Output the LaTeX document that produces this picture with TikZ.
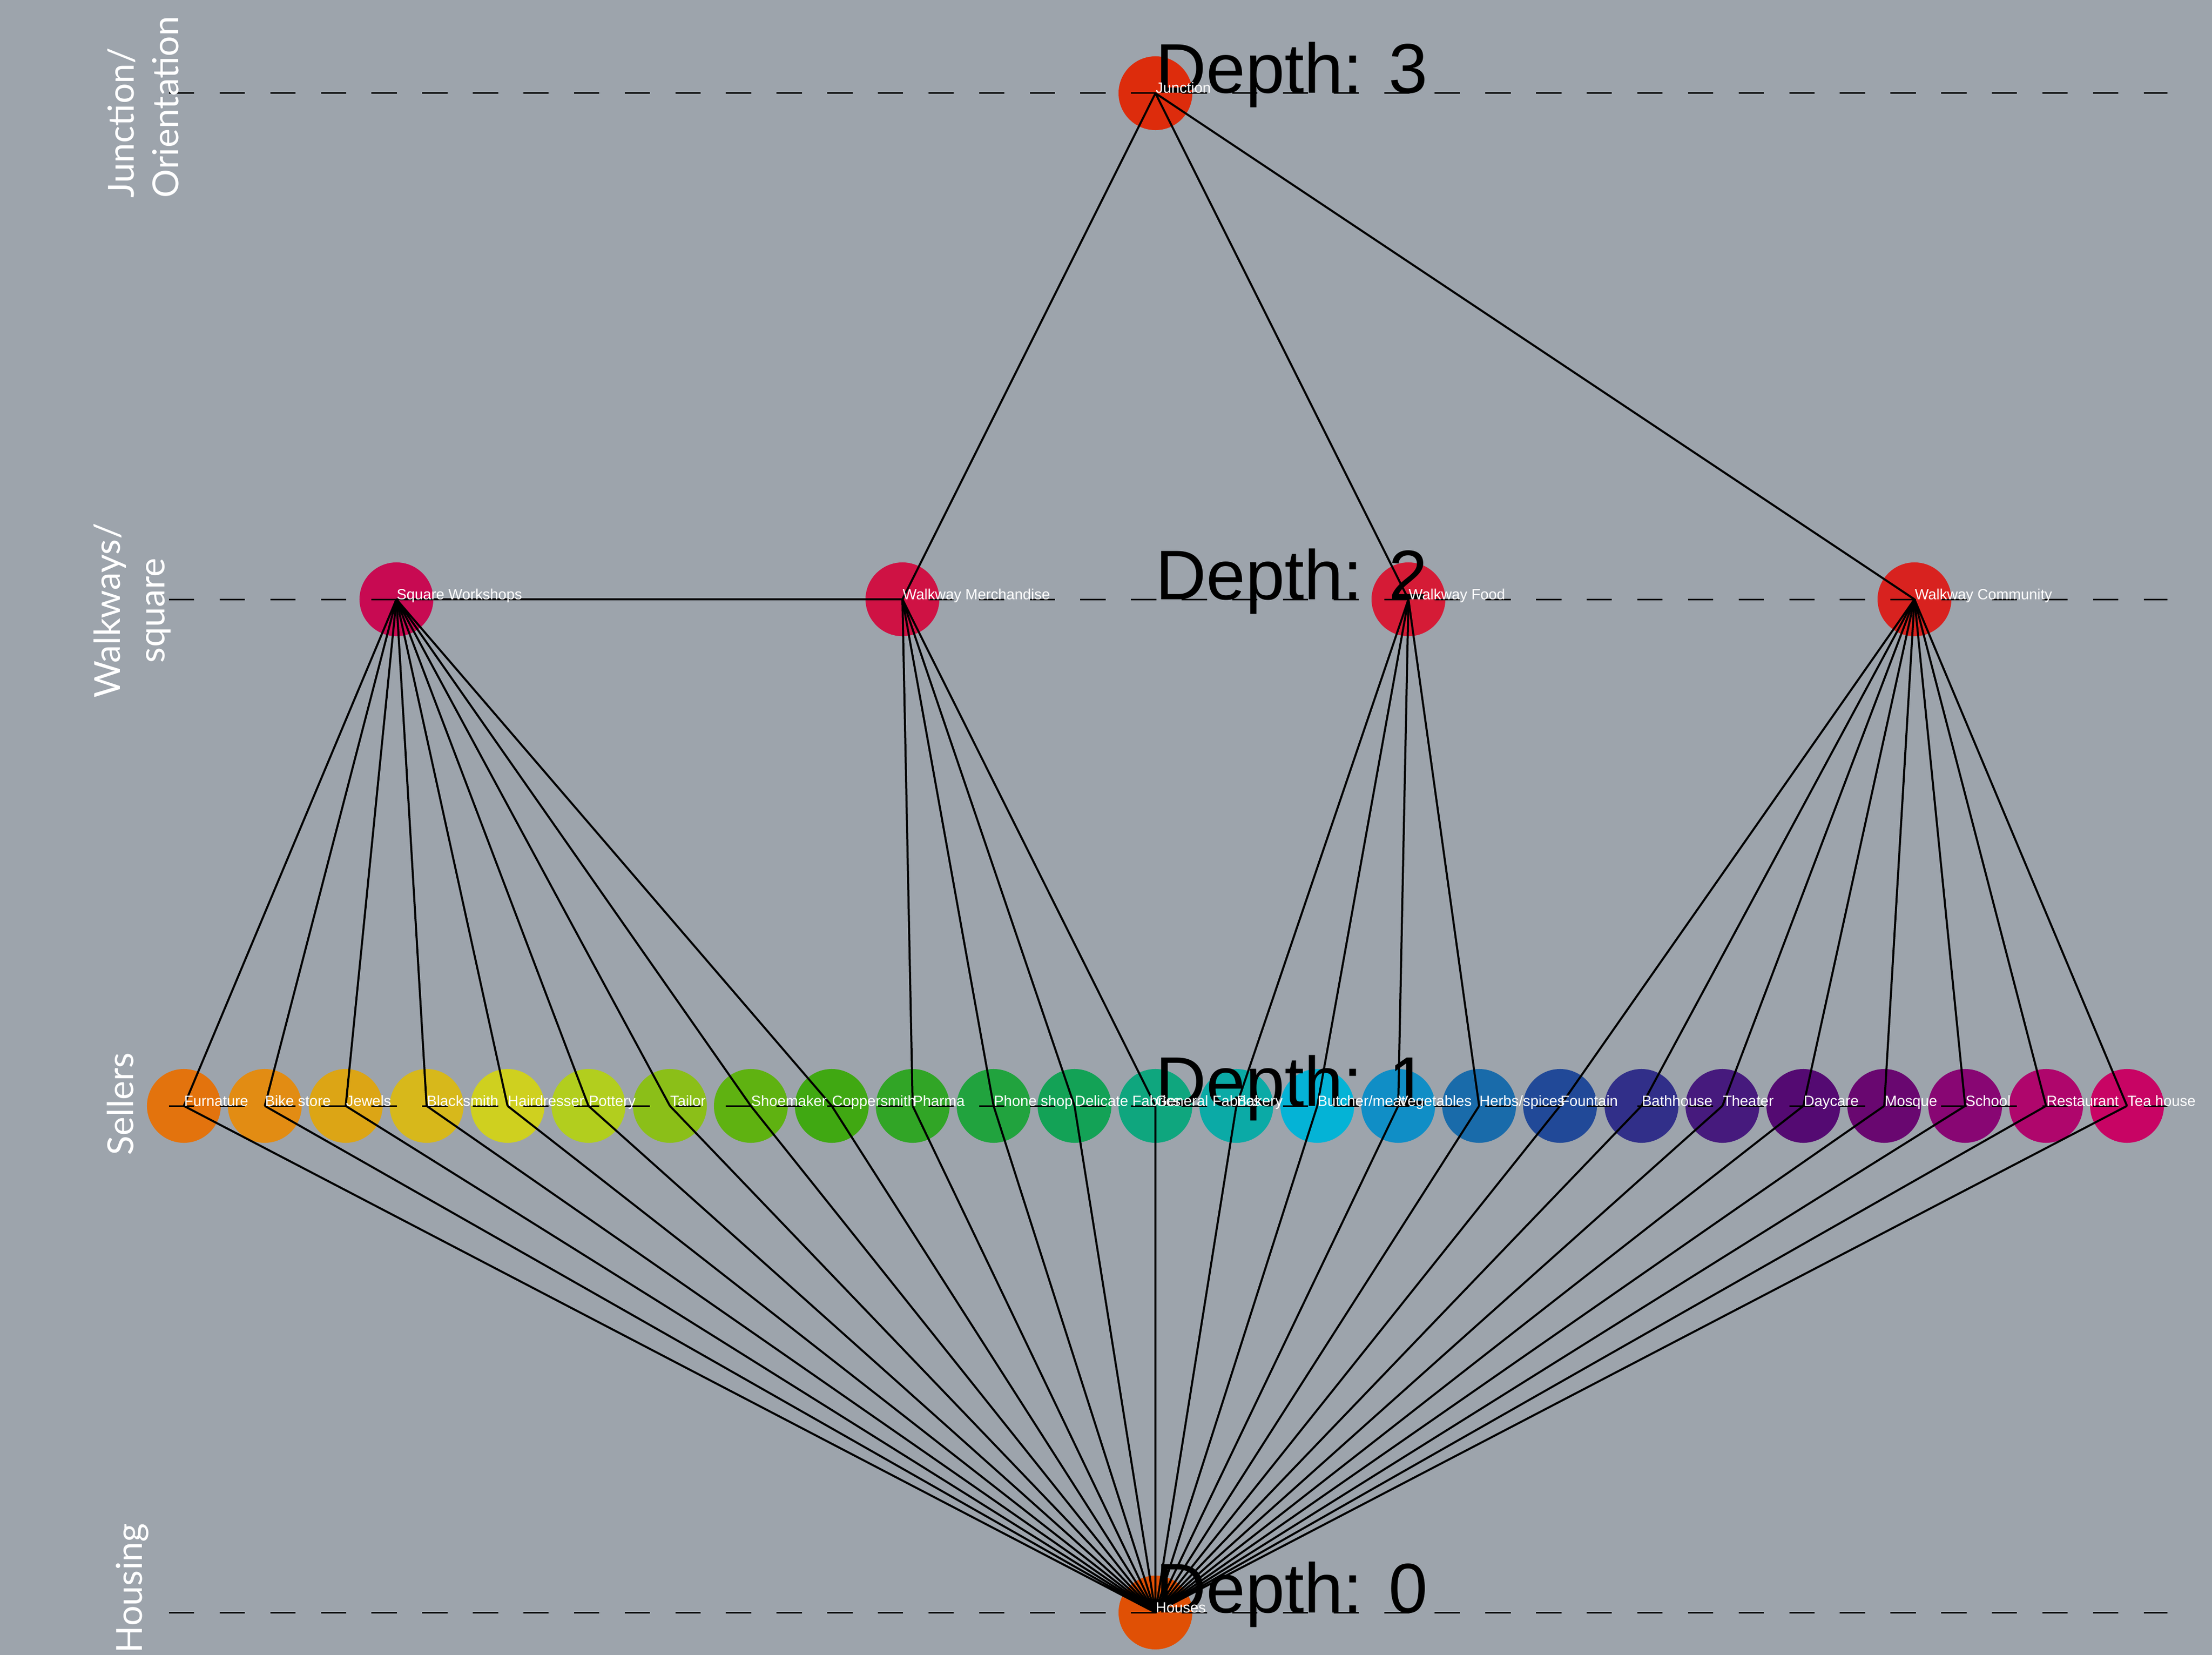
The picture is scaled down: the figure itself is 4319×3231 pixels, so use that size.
\documentclass[tikz,border=0pt]{standalone}
\usepackage{fontspec}
\setmainfont{Liberation Sans}
\newfontfamily\sidefont{Lato}
\usepackage{tikz}

\definecolor{bggray}{RGB}{157,164,172}
\definecolor{cJunc}{HTML}{DD2C0C}
\definecolor{cSquare}{HTML}{C80A52}
\definecolor{cMerch}{HTML}{CF1244}
\definecolor{cFood}{HTML}{D51B36}
\definecolor{cComm}{HTML}{D8221F}
\definecolor{cHouses}{HTML}{E05005}
\definecolor{cFurn}{HTML}{E3730D}
\definecolor{cBike}{HTML}{E28C13}
\definecolor{cJewel}{HTML}{DCA515}
\definecolor{cSmith}{HTML}{D7B81B}
\definecolor{cHair}{HTML}{CFD01F}
\definecolor{cPot}{HTML}{B2CE1E}
\definecolor{cTail}{HTML}{8BBF18}
\definecolor{cShoe}{HTML}{5FB211}
\definecolor{cCopper}{HTML}{40A812}
\definecolor{cPharma}{HTML}{31A526}
\definecolor{cPhone}{HTML}{21A33E}
\definecolor{cDelFab}{HTML}{13A256}
\definecolor{cGenFab}{HTML}{0FA67E}
\definecolor{cBake}{HTML}{0BAAA6}
\definecolor{cButch}{HTML}{04B3D6}
\definecolor{cVeg}{HTML}{108EC6}
\definecolor{cHerb}{HTML}{196BAA}
\definecolor{cFount}{HTML}{214998}
\definecolor{cBath}{HTML}{312F89}
\definecolor{cTheat}{HTML}{461A7D}
\definecolor{cDay}{HTML}{540A72}
\definecolor{cMosq}{HTML}{690770}
\definecolor{cSchool}{HTML}{880673}
\definecolor{cRest}{HTML}{AF066C}
\definecolor{cTea}{HTML}{C80464}

\begin{document}
\begin{tikzpicture}[x=0.01cm,y=-0.01cm]
  \tikzstyle{VertexStyle}=[circle,minimum size=1.44cm,inner sep=0pt]
  \tikzstyle{LabelStyle}=[anchor=base west,inner sep=0pt,text=white,font=\fontsize{8.2pt}{10pt}\selectfont]
  \tikzstyle{DepthStyle}=[anchor=base west,inner sep=0pt,font=\fontsize{39pt}{47pt}\selectfont]
  \tikzstyle{SideStyle}=[rotate=90,inner sep=0pt,text=white,font=\sidefont\fontsize{19.9pt}{24.7pt}\selectfont]
  \tikzstyle{GuideStyle}=[line width=0.03cm,dash pattern=on 0.494cm off 0.494cm]
  \tikzstyle{EdgeStyle}=[line width=0.04cm]
  \fill[bggray] (0,0) rectangle (4319,3231);
  \useasboundingbox (0,0) rectangle (4319,3231);
  % depth 3
  \node[VertexStyle,fill=cJunc] (junc) at (2256,182) {};
  % depth 2
  \node[VertexStyle,fill=cSquare] (sqw) at (774,1170) {};
  \node[VertexStyle,fill=cMerch] (wmer) at (1762,1170) {};
  \node[VertexStyle,fill=cFood] (wfood) at (2750,1170) {};
  \node[VertexStyle,fill=cComm] (wcom) at (3738,1170) {};
  % depth 1
  \node[VertexStyle,fill=cFurn] (furn) at (359,2159) {};
  \node[VertexStyle,fill=cBike] (bike) at (517,2159) {};
  \node[VertexStyle,fill=cJewel] (jewel) at (675,2159) {};
  \node[VertexStyle,fill=cSmith] (smith) at (833,2159) {};
  \node[VertexStyle,fill=cHair] (hair) at (991,2159) {};
  \node[VertexStyle,fill=cPot] (pot) at (1149,2159) {};
  \node[VertexStyle,fill=cTail] (tail) at (1308,2159) {};
  \node[VertexStyle,fill=cShoe] (shoe) at (1466,2159) {};
  \node[VertexStyle,fill=cCopper] (copper) at (1624,2159) {};
  \node[VertexStyle,fill=cPharma] (pharma) at (1782,2159) {};
  \node[VertexStyle,fill=cPhone] (phone) at (1940,2159) {};
  \node[VertexStyle,fill=cDelFab] (delfab) at (2098,2159) {};
  \node[VertexStyle,fill=cGenFab] (genfab) at (2256,2159) {};
  \node[VertexStyle,fill=cBake] (bake) at (2414,2159) {};
  \node[VertexStyle,fill=cButch] (butch) at (2572,2159) {};
  \node[VertexStyle,fill=cVeg] (veg) at (2730,2159) {};
  \node[VertexStyle,fill=cHerb] (herb) at (2888,2159) {};
  \node[VertexStyle,fill=cFount] (fount) at (3046,2159) {};
  \node[VertexStyle,fill=cBath] (bath) at (3205,2159) {};
  \node[VertexStyle,fill=cTheat] (theat) at (3363,2159) {};
  \node[VertexStyle,fill=cDay] (day) at (3521,2159) {};
  \node[VertexStyle,fill=cMosq] (mosq) at (3679,2159) {};
  \node[VertexStyle,fill=cSchool] (school) at (3837,2159) {};
  \node[VertexStyle,fill=cRest] (rest) at (3995,2159) {};
  \node[VertexStyle,fill=cTea] (tea) at (4153,2159) {};
  % depth 0
  \node[VertexStyle,fill=cHouses] (houses) at (2256,3148) {};
  % guides
  \draw[GuideStyle] (330,182) -- (4232,182);
  \draw[GuideStyle] (330,1170) -- (4232,1170);
  \draw[GuideStyle] (330,2159) -- (4232,2159);
  \draw[GuideStyle] (330,3148) -- (4232,3148);
  % edges
  \draw[EdgeStyle] (junc.center) -- (wmer.center);
  \draw[EdgeStyle] (junc.center) -- (wfood.center);
  \draw[EdgeStyle] (junc.center) -- (wcom.center);
  \draw[EdgeStyle] (sqw.center) -- (wmer.center);
  \draw[EdgeStyle] (sqw.center) -- (furn.center);
  \draw[EdgeStyle] (sqw.center) -- (bike.center);
  \draw[EdgeStyle] (sqw.center) -- (jewel.center);
  \draw[EdgeStyle] (sqw.center) -- (smith.center);
  \draw[EdgeStyle] (sqw.center) -- (hair.center);
  \draw[EdgeStyle] (sqw.center) -- (pot.center);
  \draw[EdgeStyle] (sqw.center) -- (tail.center);
  \draw[EdgeStyle] (sqw.center) -- (shoe.center);
  \draw[EdgeStyle] (sqw.center) -- (copper.center);
  \draw[EdgeStyle] (wmer.center) -- (pharma.center);
  \draw[EdgeStyle] (wmer.center) -- (phone.center);
  \draw[EdgeStyle] (wmer.center) -- (delfab.center);
  \draw[EdgeStyle] (wmer.center) -- (genfab.center);
  \draw[EdgeStyle] (wfood.center) -- (bake.center);
  \draw[EdgeStyle] (wfood.center) -- (butch.center);
  \draw[EdgeStyle] (wfood.center) -- (veg.center);
  \draw[EdgeStyle] (wfood.center) -- (herb.center);
  \draw[EdgeStyle] (wcom.center) -- (fount.center);
  \draw[EdgeStyle] (wcom.center) -- (bath.center);
  \draw[EdgeStyle] (wcom.center) -- (theat.center);
  \draw[EdgeStyle] (wcom.center) -- (day.center);
  \draw[EdgeStyle] (wcom.center) -- (mosq.center);
  \draw[EdgeStyle] (wcom.center) -- (school.center);
  \draw[EdgeStyle] (wcom.center) -- (rest.center);
  \draw[EdgeStyle] (wcom.center) -- (tea.center);
  \draw[EdgeStyle] (furn.center) -- (houses.center);
  \draw[EdgeStyle] (bike.center) -- (houses.center);
  \draw[EdgeStyle] (jewel.center) -- (houses.center);
  \draw[EdgeStyle] (smith.center) -- (houses.center);
  \draw[EdgeStyle] (hair.center) -- (houses.center);
  \draw[EdgeStyle] (pot.center) -- (houses.center);
  \draw[EdgeStyle] (tail.center) -- (houses.center);
  \draw[EdgeStyle] (shoe.center) -- (houses.center);
  \draw[EdgeStyle] (copper.center) -- (houses.center);
  \draw[EdgeStyle] (pharma.center) -- (houses.center);
  \draw[EdgeStyle] (phone.center) -- (houses.center);
  \draw[EdgeStyle] (delfab.center) -- (houses.center);
  \draw[EdgeStyle] (genfab.center) -- (houses.center);
  \draw[EdgeStyle] (bake.center) -- (houses.center);
  \draw[EdgeStyle] (butch.center) -- (houses.center);
  \draw[EdgeStyle] (veg.center) -- (houses.center);
  \draw[EdgeStyle] (herb.center) -- (houses.center);
  \draw[EdgeStyle] (fount.center) -- (houses.center);
  \draw[EdgeStyle] (bath.center) -- (houses.center);
  \draw[EdgeStyle] (theat.center) -- (houses.center);
  \draw[EdgeStyle] (day.center) -- (houses.center);
  \draw[EdgeStyle] (mosq.center) -- (houses.center);
  \draw[EdgeStyle] (school.center) -- (houses.center);
  \draw[EdgeStyle] (rest.center) -- (houses.center);
  \draw[EdgeStyle] (tea.center) -- (houses.center);
  % depth captions
  \node[DepthStyle] (dep3) at (junc.center) {Depth: 3};
  \node[DepthStyle] (dep2) at (2256,1170) {Depth: 2};
  \node[DepthStyle] (dep1) at (genfab.center) {Depth: 1};
  \node[DepthStyle] (dep0) at (houses.center) {Depth: 0};
  % vertex labels
  \node[LabelStyle] at (junc.center) {Junction};
  \node[LabelStyle] at (sqw.center) {Square Workshops};
  \node[LabelStyle] at (wmer.center) {Walkway Merchandise};
  \node[LabelStyle] at (wfood.center) {Walkway Food};
  \node[LabelStyle] at (wcom.center) {Walkway Community};
  \node[LabelStyle] at (furn.center) {Furnature};
  \node[LabelStyle] at (bike.center) {Bike store};
  \node[LabelStyle] at (jewel.center) {Jewels};
  \node[LabelStyle] at (smith.center) {Blacksmith};
  \node[LabelStyle] at (hair.center) {Hairdresser};
  \node[LabelStyle] at (pot.center) {Pottery};
  \node[LabelStyle] at (tail.center) {Tailor};
  \node[LabelStyle] at (shoe.center) {Shoemaker};
  \node[LabelStyle] at (copper.center) {Coppersmith};
  \node[LabelStyle] at (pharma.center) {Pharma};
  \node[LabelStyle] at (phone.center) {Phone shop};
  \node[LabelStyle] at (delfab.center) {Delicate Fabrics};
  \node[LabelStyle] at (genfab.center) {General Fabrics};
  \node[LabelStyle] at (bake.center) {Bakery};
  \node[LabelStyle] at (butch.center) {Butcher/meat};
  \node[LabelStyle] at (veg.center) {Vegetables};
  \node[LabelStyle] at (herb.center) {Herbs/spices};
  \node[LabelStyle] at (fount.center) {Fountain};
  \node[LabelStyle] at (bath.center) {Bathhouse};
  \node[LabelStyle] at (theat.center) {Theater};
  \node[LabelStyle] at (day.center) {Daycare};
  \node[LabelStyle] at (mosq.center) {Mosque};
  \node[LabelStyle] at (school.center) {School};
  \node[LabelStyle] at (rest.center) {Restaurant};
  \node[LabelStyle] at (tea.center) {Tea house};
  \node[LabelStyle] at (houses.center) {Houses};
  % level names (base = last line)
  \node[SideStyle,anchor=base west,align=left] (lvl3) at (348,387) {Junction/\\Orientation};
  \node[SideStyle,anchor=base,align=center] (lvl2) at (321,1192) {Walkways/\\square};
  \node[SideStyle,anchor=base] (lvl1) at (260,2155) {Sellers};
  \node[SideStyle,anchor=base west] (lvl0) at (277,3228) {Housing};
\end{tikzpicture}
\end{document}
